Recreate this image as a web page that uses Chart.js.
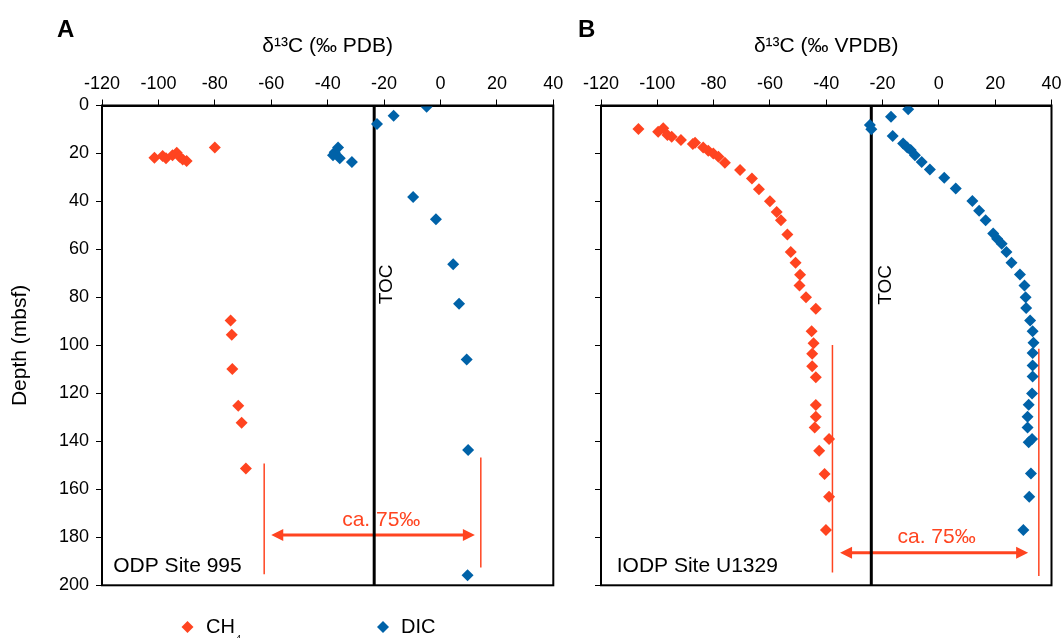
<!DOCTYPE html>
<html><head><meta charset="utf-8">
<script src="https://cdn.jsdelivr.net/npm/chart.js@4.4.1/dist/chart.umd.min.js"></script>
<style>
html,body{margin:0;padding:0;background:#fff;width:1062px;height:638px;overflow:hidden;}
#ca{position:absolute;left:0;top:0;}
#cb{position:absolute;left:560px;top:0;}
</style></head><body>
<canvas id="ca" width="570" height="638"></canvas>
<canvas id="cb" width="502" height="638"></canvas>
<script>
// ---------- data ----------
const xTicks = [-120, -100, -80, -60, -40, -20, 0, 20, 40];
const yTicks = [0, 20, 40, 60, 80, 100, 120, 140, 160, 180, 200];
const titleXA = 'δ¹³C (‰ PDB)';
const titleXB = 'δ¹³C (‰ VPDB)';
const titleY = 'Depth (mbsf)';
const seriesNames = ['CH', 'DIC'];

// Panel A: ODP Site 995
const ch4A_x = [-101.4, -98.5, -97.3, -95, -93.5, -92.5, -91.4, -90, -80, -74.4, -74, -73.8, -71.7, -70.5, -69];
const ch4A_y = [21.8, 21.1, 22, 20.7, 19.7, 21.4, 22.5, 23.1, 17.5, 89.6, 95.6, 109.8, 125.2, 132.2, 151.3];
const dicA_x = [-4.9, -16.6, -22.5, -36.3, -37.5, -38.1, -35.7, -31.4, -9.7, -1.6, 4.5, 6.6, 9.3, 9.8, 9.6];
const dicA_y = [0.5, 4.3, 7.7, 17.5, 19.5, 20.7, 22, 23.5, 38.1, 47.4, 66.2, 82.6, 105.9, 143.6, 195.8];
const tocA = -23.5;
const rangeA_left = [-62.5, 149.2, 195.4];   // x, depth from, depth to
const rangeA_right = [14.3, 146.7, 192.6];
const arrowA = [-60, 12.2, 179];            // x from, x to, depth
const labelsA = ['ODP Site 995', 'ca. 75‰', 'TOC', 'A'];

// Panel B: IODP Site U1329
const ch4B_x = [-106.7, -99.7, -97.9, -96.4, -94.9, -91.6, -87.4, -86.6, -83.7, -81.9, -80.1, -78.3, -76, -70.6, -66.4, -63.9, -60, -57.6, -56.1, -53.8, -52.6, -50.9, -49.3, -49.5, -47.2, -43.7, -45.2, -44.5, -45, -45, -43.7, -43.7, -43.7, -44.1, -39, -42.5, -40.6, -39, -40.1];
const ch4B_y = [9.8, 10.9, 9.5, 12.3, 13, 14.4, 16.1, 15.5, 17.5, 18.9, 20, 21.4, 23.9, 26.9, 30.4, 34.9, 39.9, 44.4, 47.8, 53.8, 61.1, 65.5, 70.5, 75, 79.9, 84.7, 94.1, 99.1, 103.5, 108.7, 113.3, 124.8, 129.7, 134.2, 139, 143.9, 153.6, 163.1, 177];
const dicB_x = [-10.9, -17, -24.5, -24, -16.4, -12.7, -11.2, -10, -8.5, -6.1, -3.2, 1.9, 6, 11.9, 14.3, 16.6, 19.3, 20.7, 22.3, 24, 25.8, 28.8, 30.4, 30.8, 31, 32.4, 33.3, 33.6, 33.3, 33.3, 33.3, 33.1, 31.9, 31.5, 31.5, 33.1, 31.9, 32.7, 32.1, 30];
const dicB_y = [1.6, 4.7, 8.1, 9.9, 12.7, 15.8, 17.5, 18.6, 20.7, 23.5, 26.7, 30.1, 34.6, 39.8, 43.9, 47.8, 53.4, 55.5, 57.6, 61.1, 65.5, 70.4, 75, 79.9, 84.4, 89.6, 94.1, 98.9, 103.2, 108.4, 113, 120, 124.7, 129.7, 134.2, 139, 140.4, 153.4, 163.1, 177];
const tocB = -24;
const rangeB_left = [-37.8, 99.8, 194.7];
const rangeB_right = [35.5, 101.4, 196.1];
const arrowB = [-35.1, 31.7, 186.4];
const labelsB = ['IODP Site U1329', 'ca. 75‰', 'TOC', 'B'];

// ---------- styling ----------
const FONT = "'Liberation Sans', Arial, Helvetica, sans-serif";
const RED = '#FF4420', BLUE = '#0062A8';

function pts(xs, ys) { return xs.map((x, i) => ({x: x, y: ys[i]})); }

function decoPlugin(p) {
  return {
    id: 'deco' + p.key,
    beforeDatasetsDraw(chart) {
      const ctx = chart.ctx, xs = chart.scales.x, ys = chart.scales.y;
      const x1 = xs.getPixelForValue(p.arrow[0]), x2 = xs.getPixelForValue(p.arrow[1]), y = ys.getPixelForValue(p.arrow[2]);
      ctx.save();
      ctx.strokeStyle = RED; ctx.fillStyle = RED; ctx.lineWidth = 3;
      ctx.beginPath(); ctx.moveTo(x1 + 8, y); ctx.lineTo(x2 - 8, y); ctx.stroke();
      ctx.beginPath(); ctx.moveTo(x1, y); ctx.lineTo(x1 + 12, y - 6); ctx.lineTo(x1 + 12, y + 6); ctx.closePath(); ctx.fill();
      ctx.beginPath(); ctx.moveTo(x2, y); ctx.lineTo(x2 - 12, y - 6); ctx.lineTo(x2 - 12, y + 6); ctx.closePath(); ctx.fill();
      // "ca. 75‰"
      ctx.font = '21px ' + FONT; ctx.textAlign = 'center'; ctx.textBaseline = 'middle';
      ctx.fillText(p.labels[1], xs.getPixelForValue(p.caPos[0]), ys.getPixelForValue(p.caPos[1]));
      ctx.restore();
    },
    afterDraw(chart) {
      const ctx = chart.ctx, xs = chart.scales.x, ys = chart.scales.y, a = chart.chartArea;
      ctx.save();
      ctx.strokeStyle = '#000'; ctx.lineWidth = 2;
      ctx.strokeRect(a.left, a.top, a.right - a.left, a.bottom - a.top);
      ctx.fillStyle = '#000';
      // site label
      ctx.font = '21px ' + FONT; ctx.textAlign = 'left'; ctx.textBaseline = 'middle';
      ctx.fillText(p.labels[0], xs.getPixelForValue(p.sitePos[0]), ys.getPixelForValue(p.sitePos[1]));
      // TOC label
      ctx.save();
      ctx.translate(xs.getPixelForValue(p.tocPos[0]), ys.getPixelForValue(p.tocPos[1]));
      ctx.rotate(-Math.PI / 2);
      ctx.font = '19px ' + FONT; ctx.textAlign = 'center'; ctx.textBaseline = 'middle';
      ctx.fillText(p.labels[2], 0, 0);
      ctx.restore();
      // panel letter
      ctx.font = 'bold 24px ' + FONT; ctx.textAlign = 'left'; ctx.textBaseline = 'alphabetic';
      ctx.fillText(p.labels[3], p.letterX, 37);
      // legend
      if (p.legend) {
        const items = [[seriesNames[0], RED, 187.5, 206], [seriesNames[1], BLUE, 383, 401]];
        items.forEach(function (it) {
          ctx.fillStyle = it[1];
          ctx.beginPath();
          ctx.moveTo(it[2] - 6, 627); ctx.lineTo(it[2], 621); ctx.lineTo(it[2] + 6, 627); ctx.lineTo(it[2], 633);
          ctx.closePath(); ctx.fill();
          ctx.fillStyle = '#000';
          ctx.font = '20px ' + FONT; ctx.textAlign = 'left'; ctx.textBaseline = 'middle';
          ctx.fillText(it[0], it[3], 627);
          if (it[0] === 'CH') {
            const w = ctx.measureText('CH').width;
            ctx.font = '9px ' + FONT; ctx.textBaseline = 'alphabetic';
            ctx.fillText('4', it[3] + w + 1, 641);
          }
        });
      }
      ctx.restore();
    }
  };
}

function buildChart(id, p) {
  return new Chart(document.getElementById(id), {
    type: 'scatter',
    data: {
      datasets: [
        {label: 'CH4', data: pts(p.ch4x, p.ch4y), pointStyle: 'rectRot', pointRadius: 6, pointHoverRadius: 6, backgroundColor: RED, borderColor: RED, borderWidth: 0},
        {label: 'DIC', data: pts(p.dicx, p.dicy), pointStyle: 'rectRot', pointRadius: 6, pointHoverRadius: 6, backgroundColor: BLUE, borderColor: BLUE, borderWidth: 0},
        {label: 'TOC', data: [{x: p.toc, y: 0}, {x: p.toc, y: 200}], showLine: true, borderColor: '#000', borderWidth: 3, pointRadius: 0},
        {label: 'r1', data: [{x: p.rl[0], y: p.rl[1]}, {x: p.rl[0], y: p.rl[2]}], showLine: true, borderColor: RED, borderWidth: 1.5, pointRadius: 0},
        {label: 'r2', data: [{x: p.rr[0], y: p.rr[1]}, {x: p.rr[0], y: p.rr[2]}], showLine: true, borderColor: RED, borderWidth: 1.5, pointRadius: 0}
      ]
    },
    options: {
      responsive: false, animation: false, events: [],
      layout: {padding: {left: 0, right: p.padRight, top: 0, bottom: 52.7}},
      plugins: {legend: {display: false}, tooltip: {enabled: false}},
      scales: {
        x: {
          type: 'linear', position: 'top', min: -120, max: 40,
          afterBuildTicks: function (s) { s.ticks = xTicks.map(v => ({value: v})); },
          afterFit: function (s) { s.height = 105.5; s.paddingLeft = 0; s.paddingRight = 0; },
          ticks: {padding: 5, color: '#000', font: {size: 18, family: FONT}},
          grid: {drawOnChartArea: false, drawTicks: true, tickLength: 6, color: '#000', lineWidth: 1},
          border: {display: true, color: '#000', width: 2},
          title: {display: true, text: p.titleX, color: '#000', font: {size: 21, family: FONT}, padding: {top: 34, bottom: 0}}
        },
        y: {
          type: 'linear', position: 'left', reverse: true, min: 0, max: 200,
          afterBuildTicks: function (s) { s.ticks = yTicks.map(v => ({value: v})); },
          afterFit: function (s) { s.width = p.yWidth; s.paddingTop = 0; s.paddingBottom = 0; },
          ticks: {display: p.showY, padding: 7, color: '#000', font: {size: 18, family: FONT}},
          grid: {drawOnChartArea: false, drawTicks: true, tickLength: 6, color: '#000', lineWidth: 1},
          border: {display: true, color: '#000', width: 2},
          title: {display: p.showY, text: titleY, color: '#000', font: {size: 21, family: FONT}, padding: {top: 8, bottom: 0}}
        }
      }
    },
    plugins: [decoPlugin(p)]
  });
}

buildChart('ca', {
  key: 'A', ch4x: ch4A_x, ch4y: ch4A_y, dicx: dicA_x, dicy: dicA_y, toc: tocA,
  rl: rangeA_left, rr: rangeA_right, arrow: arrowA, labels: labelsA,
  caPos: [-21, 173], sitePos: [-116, 192], tocPos: [-18.9, 74.6], letterX: 57,
  titleX: titleXA, padRight: 16.7, yWidth: 102, showY: true, legend: true
});
buildChart('cb', {
  key: 'B', ch4x: ch4B_x, ch4y: ch4B_y, dicx: dicB_x, dicy: dicB_y, toc: tocB,
  rl: rangeB_left, rr: rangeB_right, arrow: arrowB, labels: labelsB,
  caPos: [-0.8, 179.8], sitePos: [-114.4, 192], tocPos: [-19, 74.8], letterX: 18,
  titleX: titleXB, padRight: 10.5, yWidth: 41, showY: false, legend: false
});
</script>
</body></html>
